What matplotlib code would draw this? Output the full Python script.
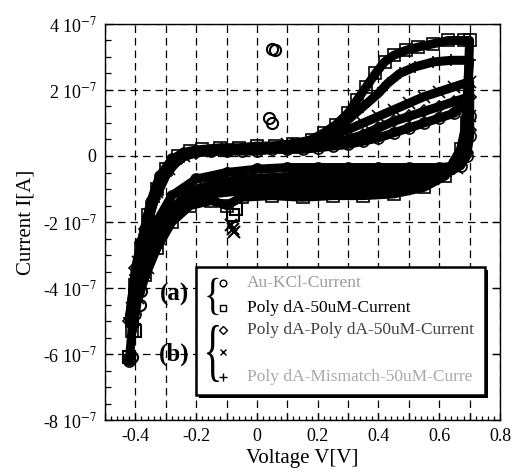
import matplotlib.pyplot as plt
from matplotlib.patches import Rectangle, PathPatch
from matplotlib.textpath import TextPath
from matplotlib.font_manager import FontProperties
from matplotlib.ticker import MultipleLocator, FuncFormatter
from matplotlib.transforms import Affine2D

plt.rcParams['font.family'] = ['Liberation Serif', 'DejaVu Serif']
plt.rcParams['mathtext.fontset'] = 'stix'

# currents are in units of 1e-7 A
# Au-KCl-Current (circles)
aukcl_v = [-0.42, -0.40, -0.38, -0.35, -0.32, -0.28, -0.24, -0.20, -0.15, -0.10, -0.05, 0.00,
           0.05, 0.10, 0.15, 0.20, 0.25, 0.30, 0.35, 0.40, 0.45, 0.50, 0.55, 0.60, 0.65, 0.69,
           0.70, 0.70, 0.69, 0.67, 0.60, 0.50, 0.40, 0.30, 0.20, 0.10, 0.00, -0.10, -0.20,
           -0.28, -0.33, -0.37, -0.39, -0.40]
aukcl_i = [-6.2, -4.1, -2.6, -1.4, -0.6, -0.1, 0.1, 0.15, 0.15, 0.15, 0.15, 0.15,
           0.2, 0.2, 0.2, 0.25, 0.3, 0.35, 0.45, 0.55, 0.7, 0.85, 1.0, 1.15, 1.3, 1.65,
           1.2, 0.6, 0.0, -0.3, -0.35, -0.35, -0.35, -0.35, -0.35, -0.35, -0.4, -0.5, -0.7,
           -1.2, -2.0, -3.0, -4.1, -4.8]
aukcl_spike_v = [0.05, 0.058, 0.04, 0.05, -0.42, -0.41, -0.38, -0.385]
aukcl_spike_i = [3.25, 3.2, 1.15, 1.0, -6.15, -6.1, -4.1, -4.5]

# Poly dA-50uM-Current (squares)
polya_v = [-0.41, -0.40, -0.38, -0.36, -0.33, -0.30, -0.26, -0.22, -0.18, -0.12, -0.06, 0.00,
           0.06, 0.12, 0.18, 0.22, 0.26, 0.30, 0.33, 0.36, 0.39, 0.42, 0.45, 0.49, 0.53, 0.58,
           0.63, 0.68, 0.70, 0.69, 0.67, 0.62, 0.55, 0.45, 0.35, 0.25, 0.15, 0.05, -0.05,
           -0.10, -0.15, -0.22, -0.28, -0.33, -0.37, -0.40]
polya_i = [-5.3, -3.9, -2.8, -1.8, -1.0, -0.4, 0.0, 0.15, 0.2, 0.25, 0.25, 0.3,
           0.3, 0.35, 0.5, 0.7, 0.95, 1.3, 1.7, 2.1, 2.5, 2.85, 3.05, 3.2, 3.3, 3.4,
           3.5, 3.5, 3.5, 1.0, 0.2, -0.6, -0.95, -1.15, -1.2, -1.2, -1.25, -1.2, -1.25,
           -1.5, -1.35, -1.5, -2.0, -2.8, -3.6, -4.2]
polya_spike_v = [-0.07, -0.08, -0.41, -0.40, -0.42]
polya_spike_i = [-1.6, -1.8, -5.0, -5.3, -6.1]

# Poly dA-Poly dA-50uM-Current (diamonds)
polyaa_v = [-0.42, -0.40, -0.37, -0.34, -0.30, -0.25, -0.20, -0.10, 0.00, 0.10, 0.20, 0.30,
            0.35, 0.40, 0.45, 0.50, 0.55, 0.60, 0.65, 0.70, 0.70, 0.69, 0.65, 0.55, 0.45,
            0.35, 0.25, 0.15, 0.05, -0.05, -0.15, -0.22, -0.28, -0.33, -0.37, -0.40]
polyaa_i = [-5.0, -3.4, -2.2, -1.3, -0.5, -0.05, 0.1, 0.15, 0.2, 0.25, 0.35, 0.5,
            0.65, 0.85, 1.05, 1.2, 1.35, 1.5, 1.65, 1.8, 0.8, 0.1, -0.35, -0.55, -0.6,
            -0.6, -0.6, -0.6, -0.65, -0.7, -0.85, -1.1, -1.6, -2.4, -3.3, -4.4]

# unlabelled series (crosses)
cross_v = [-0.41, -0.39, -0.36, -0.33, -0.29, -0.24, -0.18, -0.10, 0.00, 0.10, 0.20, 0.25,
           0.30, 0.35, 0.40, 0.45, 0.50, 0.55, 0.60, 0.65, 0.70, 0.70, 0.69, 0.66, 0.58,
           0.48, 0.38, 0.28, 0.18, 0.08, -0.02, -0.12, -0.20, -0.27, -0.32, -0.36, -0.39]
cross_i = [-4.6, -3.2, -2.0, -1.1, -0.4, 0.0, 0.15, 0.2, 0.25, 0.35, 0.5, 0.65,
           0.8, 1.0, 1.2, 1.4, 1.6, 1.8, 1.95, 2.1, 2.25, 1.2, 0.3, -0.35, -0.7,
           -0.8, -0.8, -0.8, -0.8, -0.85, -0.9, -1.0, -1.2, -1.7, -2.5, -3.4, -4.3]
cross_spike_v = [-0.08, -0.075, -0.085]
cross_spike_i = [-2.2, -2.3, -2.1]

# Poly dA-Mismatch-50uM-Current (plus)
mism_v = [-0.42, -0.40, -0.37, -0.34, -0.30, -0.26, -0.20, -0.10, 0.00, 0.10, 0.15, 0.20,
          0.25, 0.30, 0.35, 0.40, 0.43, 0.47, 0.52, 0.58, 0.64, 0.70, 0.69, 0.68, 0.64,
          0.55, 0.45, 0.35, 0.25, 0.15, 0.05, -0.05, -0.15, -0.22, -0.28, -0.33, -0.37, -0.40]
mism_i = [-4.9, -3.6, -2.4, -1.4, -0.6, -0.1, 0.15, 0.2, 0.25, 0.3, 0.4, 0.55,
          0.8, 1.1, 1.5, 1.9, 2.2, 2.5, 2.7, 2.85, 2.9, 2.9, 1.5, 0.4, -0.45,
          -0.8, -1.0, -1.0, -1.0, -1.0, -1.0, -1.05, -1.15, -1.4, -1.9, -2.8, -3.7, -4.5]
mism_spike_v = [-0.41, -0.40]
mism_spike_i = [-4.7, -5.1]

legend_labels = ['Au-KCl-Current', 'Poly dA-50uM-Current', 'Poly dA-Poly dA-50uM-Current',
                 '', 'Poly dA-Mismatch-50uM-Curre']
legend_colors = ['#9a9a9a', 'black', '#404040', 'black', '#a8a8a8']

scale = 1e-7
series = [
    (aukcl_v, aukcl_i, aukcl_spike_v, aukcl_spike_i, 'o', 8),
    (polya_v, polya_i, polya_spike_v, polya_spike_i, 's', 8),
    (polyaa_v, polyaa_i, [], [], 'D', 6.5),
    (cross_v, cross_i, cross_spike_v, cross_spike_i, 'x', 8),
    (mism_v, mism_i, mism_spike_v, mism_spike_i, '+', 9),
]

fig = plt.figure(figsize=(5.23, 4.74), dpi=100)
ax = fig.add_axes([105 / 523, 1 - 420 / 474, 395 / 523, 396 / 474])

for v, i, sv, si, mk, ms in series:
    ax.plot(v, [c * scale for c in i], color='black', lw=6.5, marker=mk, ms=ms,
            mfc='none', mec='black', mew=1.2, zorder=3, solid_capstyle='round',
            solid_joinstyle='round')
    if sv:
        ax.plot(sv, [c * scale for c in si], ls='none', marker=mk, ms=ms,
                mfc='none', mec='black', mew=1.5, zorder=3)

ax.set_xlim(-0.5, 0.8)
ax.set_ylim(-8e-7, 4e-7)


def fmt_x(val, pos):
    k = int(round(val * 10))
    if k % 2:
        return ''
    if k == 0:
        return '0'
    return f'{val:.1f}'


def fmt_y(val, pos):
    k = int(round(val / 1e-7))
    if k == 0:
        return '0'
    return f'{k} 10$^{{-7}}$'


ax.xaxis.set_major_locator(MultipleLocator(0.1))
ax.xaxis.set_minor_locator(MultipleLocator(0.02))
ax.xaxis.set_major_formatter(FuncFormatter(fmt_x))
ax.yaxis.set_major_locator(MultipleLocator(2e-7))
ax.yaxis.set_minor_locator(MultipleLocator(0.5e-7))
ax.yaxis.set_major_formatter(FuncFormatter(fmt_y))
ax.tick_params(which='both', direction='in', top=False, right=True, labelsize=13,
               width=0.9, color='black')
ax.tick_params(which='minor', right=False)
ax.tick_params(axis='x', which='major', length=5, pad=6)
ax.tick_params(axis='x', which='minor', length=3)
ax.tick_params(axis='y', which='major', length=6, pad=6)
ax.tick_params(axis='y', which='minor', length=4)
ax.grid(True, which='major', color='black', linestyle=(0, (6, 4)), lw=0.9)
ax.set_axisbelow(True)
for s in ax.spines.values():
    s.set_linewidth(1.0)

ax.set_xlabel('Voltage V[V]', fontsize=15, labelpad=3)
ax.set_ylabel('Current I[A]', fontsize=15, labelpad=5)

# legend box with shadow
bx, by, bw, bh = 0.230, 0.063, 0.732, 0.323
ax.add_patch(Rectangle((bx + 0.008, by - 0.008), bw, bh, transform=ax.transAxes,
                       fc='black', ec='none', zorder=6, clip_on=False))
box = Rectangle((bx, by), bw, bh, transform=ax.transAxes, fc='white', ec='black',
                lw=1.8, zorder=7, clip_on=False)
ax.add_patch(box)

rows = [0.346, 0.283, 0.227, 0.172, 0.109]
for (v, i, sv, si, mk, ms), lab, col, ry in zip(series, legend_labels, legend_colors, rows):
    ax.plot([0.299], [ry], transform=ax.transAxes, ls='none', marker=mk,
            ms=ms * 0.6, mfc='none', mec='black', mew=1.0, zorder=8, clip_on=False)
    if lab:
        t = ax.text(0.359, ry, lab, transform=ax.transAxes, fontsize=12.5, color=col,
                    va='center', ha='left', zorder=8)
        t.set_clip_path(box)


def brace(x, y0, y1, w):
    tp = TextPath((0, 0), '{', size=1, prop=FontProperties(family='Liberation Serif'))
    ext = tp.get_extents()
    tr = (Affine2D().translate(-ext.x0, -ext.y0)
          .scale(w / ext.width, (y1 - y0) / ext.height)
          .translate(x - w / 2, y0))
    ax.add_patch(PathPatch(tr.transform_path(tp), transform=ax.transAxes, fc='black',
                           ec='none', zorder=8, clip_on=False))


brace(0.273, 0.265, 0.359, 0.028)
brace(0.273, 0.096, 0.240, 0.030)
ax.text(0.175, 0.316, '(a)', transform=ax.transAxes, fontsize=18, fontweight='bold',
        ha='center', va='center', zorder=8)
ax.text(0.175, 0.166, '(b)', transform=ax.transAxes, fontsize=18, fontweight='bold',
        ha='center', va='center', zorder=8)

fig.savefig('out.png', dpi=100)
